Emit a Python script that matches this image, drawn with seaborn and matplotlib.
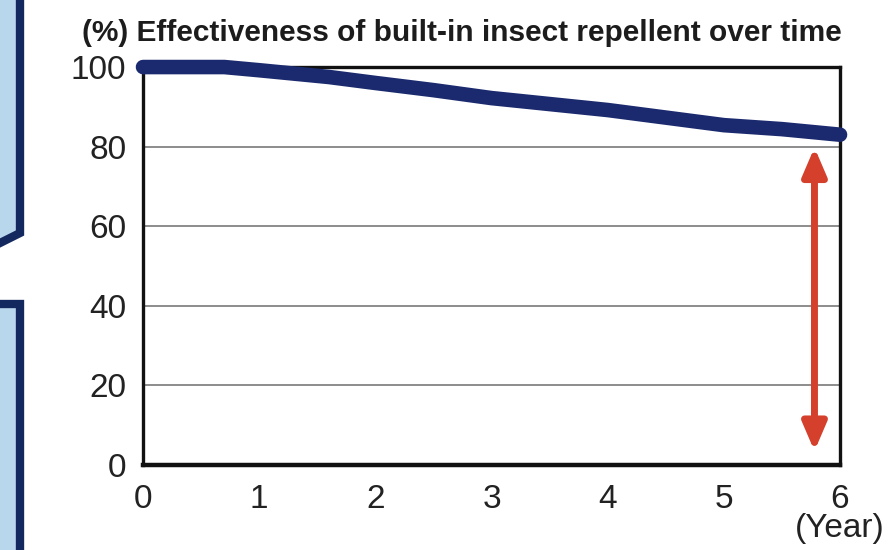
import matplotlib
matplotlib.use("Agg")
import matplotlib.pyplot as plt
import seaborn as sns
from matplotlib.patches import Polygon

# 경과 연수별 방충 효과 (%)
years = [0, 0.7, 1, 1.6, 2, 2.5, 3, 4, 5, 5.5, 6]
effect = [100, 100, 99.2, 97.5, 96.0, 94.2, 92.2, 89.2, 85.4, 84.4, 83.0]

x_ticks = [0, 1, 2, 3, 4, 5, 6]
y_ticks = [0, 20, 40, 60, 80, 100]

# 빨간 양방향 화살표 (연도, 상단값, 하단값)
arrow_year = 5.78
arrow_top = 79.8
arrow_bottom = 3.5

title = "(%) Effectiveness of built-in insect repellent over time"
x_unit = "(Year)"

sns.set_theme(style="white")
plt.rcParams['font.family'] = ['Liberation Sans', 'DejaVu Sans']

NAVY = "#1b2a6e"
BORDER = "#13285e"
RED = "#d4402b"

fig = plt.figure(figsize=(8.91, 5.5), dpi=100)
ax = fig.add_axes([0.1605, 0.1545, 0.7823, 0.7236])

sns.lineplot(x=years, y=effect, ax=ax, color=NAVY, linewidth=10.5,
             solid_capstyle="round", clip_on=False, zorder=5)

ax.set_xlim(0, 6)
ax.set_ylim(0, 100)
ax.set_xticks(x_ticks)
ax.set_yticks(y_ticks)
ax.set_xticklabels([str(v) for v in x_ticks], fontsize=24, color="#222222")
ax.set_yticklabels([str(v) for v in y_ticks], fontsize=24, color="#222222")
ax.set_xlabel("")
ax.set_ylabel("")

ax.tick_params(axis="both", direction="in", length=9, width=2.2, color="#111111")
ax.tick_params(axis="x", pad=14)
ax.tick_params(axis="y", pad=12)

ax.yaxis.grid(True, color="#8c8c8c", linewidth=1.4)
ax.xaxis.grid(False)
for side, lw in [("left", 2.4), ("bottom", 3.2), ("top", 2.4), ("right", 2.4)]:
    ax.spines[side].set_visible(True)
    ax.spines[side].set_color("#111111")
    ax.spines[side].set_linewidth(lw)

ax.annotate("", xy=(arrow_year, arrow_bottom), xytext=(arrow_year, arrow_top),
            arrowprops=dict(arrowstyle="<|-|>,head_length=1.4,head_width=0.6",
                            color=RED, lw=5, shrinkA=0, shrinkB=0),
            zorder=4)

fig.text(82 / 891, 1 - 33 / 550, title, fontsize=21.5, fontweight="bold",
         color="#1c1c1c", ha="left", va="center")
fig.text(840 / 891, 1 - 529 / 550, x_unit, fontsize=24, color="#222222",
         ha="center", va="center")

# 왼쪽 가장자리 장식 박스
W, H = 891, 550
def px(pts):
    return [(x / W, 1 - y / H) for x, y in pts]

top_box = Polygon(px([(-10, -10), (20, -10), (20, 233), (-10, 248)]),
                  closed=True, facecolor="#b8d6ec", edgecolor=BORDER,
                  linewidth=6, transform=fig.transFigure, figure=fig)
bottom_box = Polygon(px([(-10, 304), (20, 304), (20, 560), (-10, 560)]),
                     closed=True, facecolor="#b8d6ec", edgecolor=BORDER,
                     linewidth=6, transform=fig.transFigure, figure=fig)
fig.patches.extend([top_box, bottom_box])

fig.savefig("out.png", dpi=100)
